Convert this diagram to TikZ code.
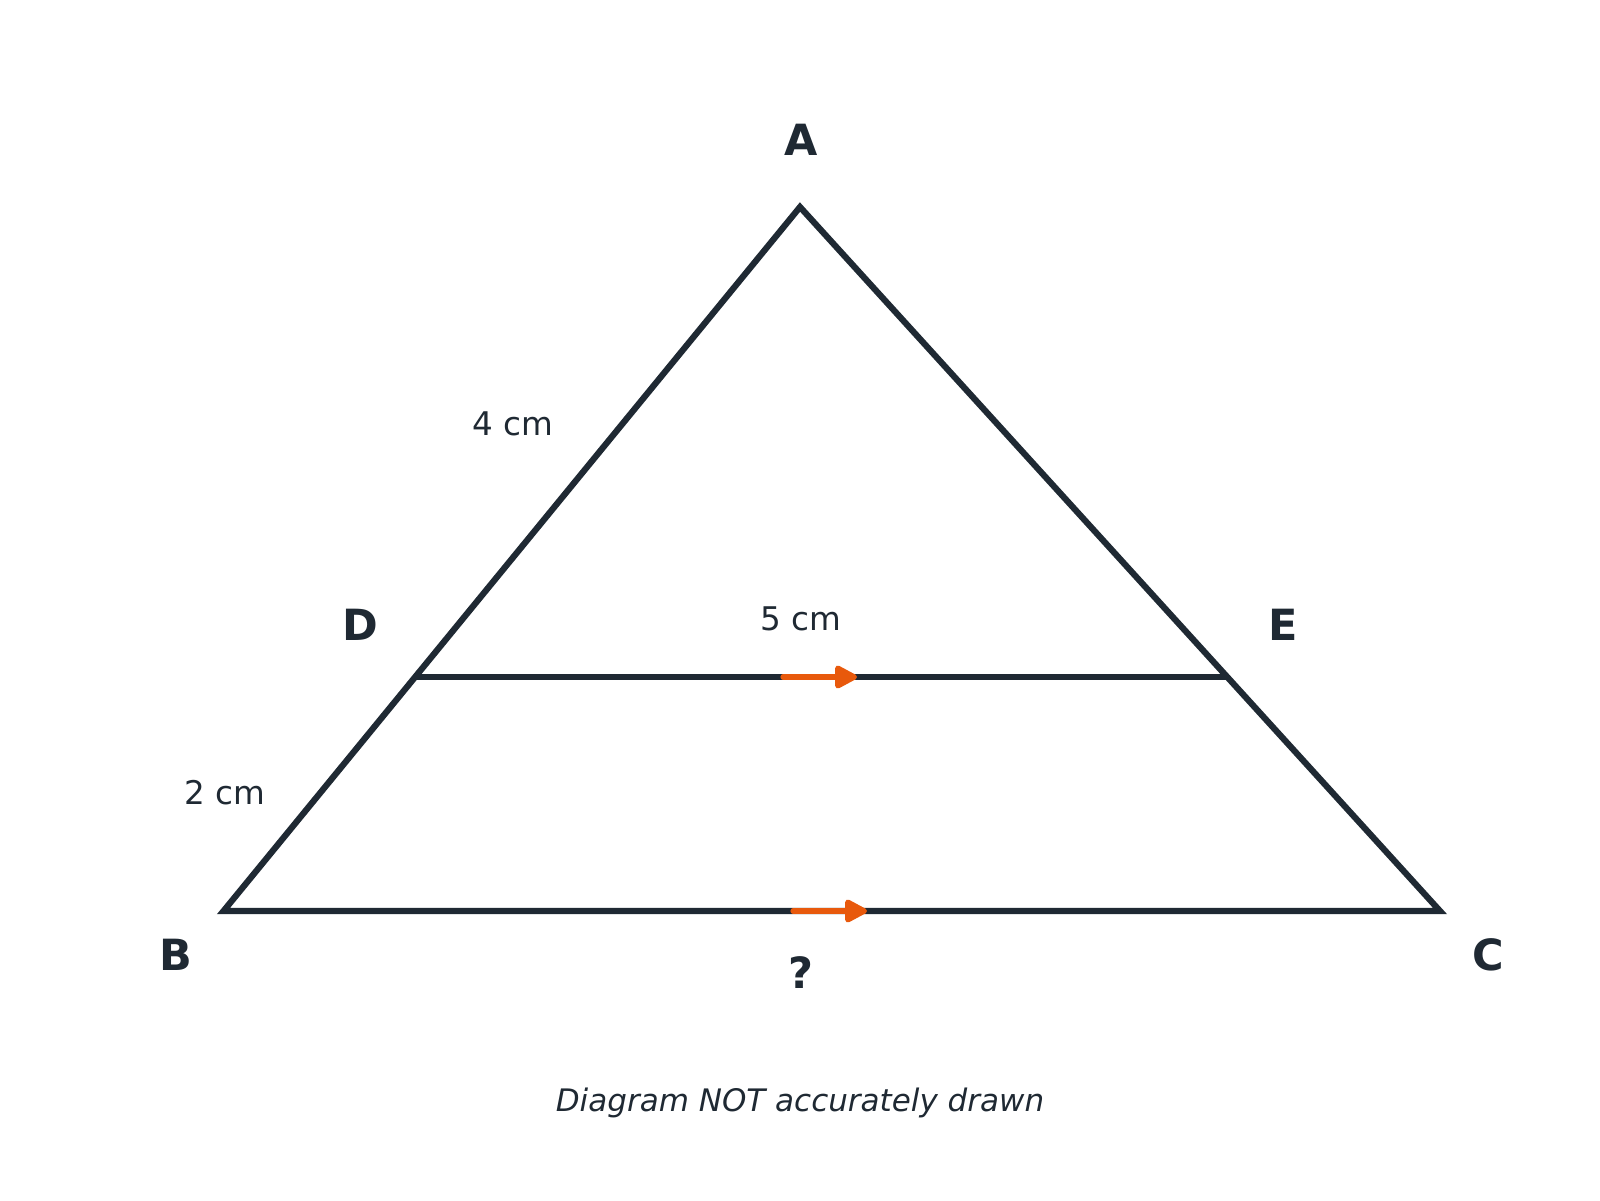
\documentclass[tikz,border=0pt]{standalone}
\usepackage{fontspec}
\setmainfont{DejaVu Sans}
\usetikzlibrary{arrows.meta}
\definecolor{ink}{HTML}{1F2933}
\definecolor{orng}{HTML}{E8590C}
\begin{document}
\begin{tikzpicture}[x=0.5pt,y=-0.5pt,
  edge/.style={draw=ink,line width=3.1pt,line join=miter},
  vlab/.style={text=ink,font=\fontsize{21.5}{24}\selectfont\bfseries,inner sep=0pt},
  mlab/.style={text=ink,font=\fontsize{16.3}{19}\selectfont,inner sep=0pt},
  par/.style={draw=orng,line width=2.6pt,line cap=round,-{Triangle[length=12.5pt,width=12.5pt,round]}}]
\useasboundingbox (0,0) rectangle (1600,1200);
\fill[white] (0,0) rectangle (1600,1200);
\coordinate (A) at (800,207);
\coordinate (B) at (223.5,911);
\coordinate (C) at (1440,911);
\coordinate (D) at (417,677);
\coordinate (E) at (1225.5,677);
\draw[edge] (A) -- (B) -- (C) -- cycle;
\draw[edge] (D) -- (E);
\coordinate (p1s) at (783,677);
\coordinate (p1e) at (857,677);
\coordinate (p2s) at (793,911);
\coordinate (p2e) at (867,911);
\draw[par] (p1s) -- (p1e);
\draw[par] (p2s) -- (p2e);
\node[vlab] (lA) at (801,140) {A};
\node[vlab] (lB) at (176,955) {B};
\node[vlab] (lC) at (1488,955) {C};
\node[vlab] (lD) at (360.5,624.5) {D};
\node[vlab] (lE) at (1283,624.5) {E};
\node[vlab] (lq) at (800.5,972.5) {?};
\node[mlab] (m4) at (512.5,424) {4 cm};
\node[mlab] (m5) at (801,618.5) {5 cm};
\node[mlab] (m2) at (224.5,792.5) {2 cm};
\node[text=ink,font=\fontsize{15.5}{18}\selectfont\itshape,inner sep=0pt] (cap) at (800,1103) {Diagram NOT accurately drawn};
\end{tikzpicture}
\end{document}
